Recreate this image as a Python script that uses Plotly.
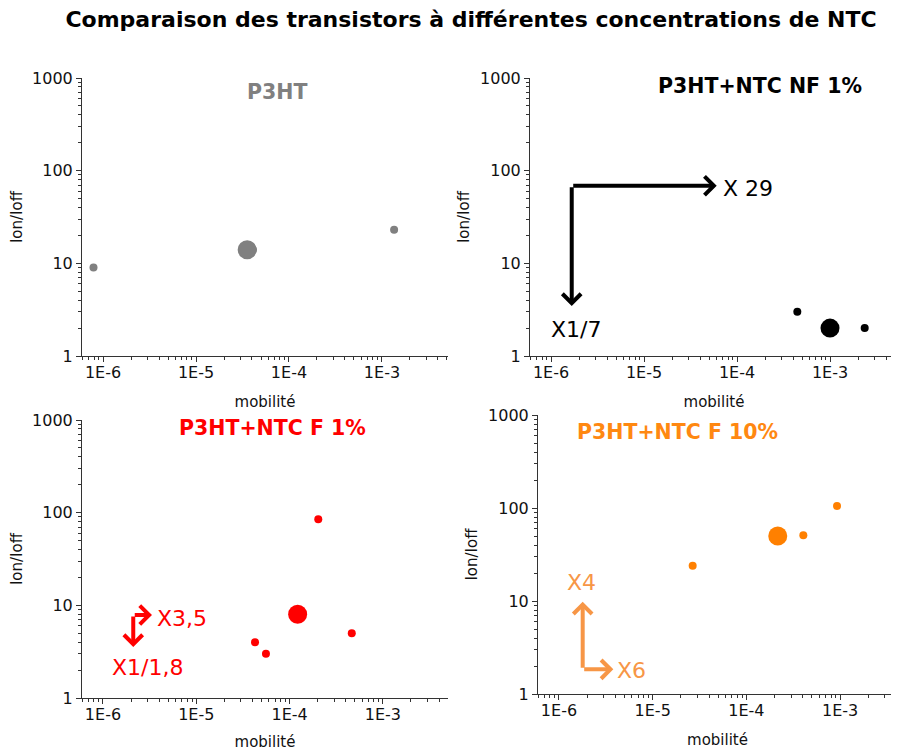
import math
import plotly.graph_objects as go

# ---------------- data ----------------
p3ht_mob = [7.9e-7, 4.1e-5, 1.35e-3]
p3ht_ratio = [9, 14, 23]
p3ht_mean_mob = [3.55e-5]
p3ht_mean_ratio = [14]

nf1_mob = [4.45e-4, 2.36e-3]
nf1_ratio = [3, 2]
nf1_mean_mob = [1.0e-3]
nf1_mean_ratio = [2]

f1_mob = [4.26e-5, 5.58e-5, 2.03e-4, 4.64e-4]
f1_ratio = [4, 3, 85, 5]
f1_mean_mob = [1.22e-4]
f1_mean_ratio = [8]

f10_mob = [2.67e-5, 4.05e-4, 9.27e-4]
f10_ratio = [24, 51, 105]
f10_mean_mob = [2.16e-4]
f10_mean_ratio = [50]

x_tick_vals = [1e-6, 1e-5, 1e-4, 1e-3]
x_tick_text = ["1E-6", "1E-5", "1E-4", "1E-3"]
y_tick_vals = [1, 10, 100, 1000]
y_tick_text = ["1", "10", "100", "1000"]

panel_titles = ["P3HT", "P3HT+NTC NF 1%", "P3HT+NTC F 1%", "P3HT+NTC F 10%"]
main_title = "Comparaison des transistors à différentes concentrations de NTC"
x_title = "mobilité"
y_title = "Ion/Ioff"

# ---------------- layout helpers ----------------
PAGE_W, PAGE_H = 899, 751
OFF = 8  # default body margin of the html page
W, H = PAGE_W - OFF, PAGE_H - OFF
FONT = "DejaVu Sans"


def px(x):
    return (x - OFF) / W


def py(y):
    return 1 - (y - OFF) / H


L = math.log10

# pixel boxes (page coordinates) of the four plot areas: (left, right, top, bottom)
boxes = [(82, 448, 78, 356), (530, 898, 78, 356), (82, 448, 420, 698), (538, 897, 415, 694)]
xranges = [[-6.226, -2.29], [-6.226, -2.269], [-6.225, -2.302], [-6.224, -2.393]]

minor_x = [k * 10.0 ** e for e in range(-7, -2) for k in range(2, 10)]
minor_y = [k * 10.0 ** e for e in range(0, 3) for k in range(2, 10)]

series = [
    (p3ht_mob, p3ht_ratio, p3ht_mean_mob, p3ht_mean_ratio, "#808080"),
    (nf1_mob, nf1_ratio, nf1_mean_mob, nf1_mean_ratio, "#000000"),
    (f1_mob, f1_ratio, f1_mean_mob, f1_mean_ratio, "#ff0000"),
    (f10_mob, f10_ratio, f10_mean_mob, f10_mean_ratio, "#ff8000"),
]

fig = go.Figure()
axis_common = dict(
    type="log", showgrid=False, zeroline=False, showline=True, automargin=False,
    linecolor="#333333", linewidth=1, ticks="outside", ticklen=5,
    tickcolor="#333333", tickfont=dict(family=FONT, size=16, color="#111111"),
)

for i, (mob, rat, mmob, mrat, col) in enumerate(series):
    n = i + 1
    xa = "x" if n == 1 else f"x{n}"
    ya = "y" if n == 1 else f"y{n}"
    fig.add_trace(go.Scatter(x=mob, y=rat, mode="markers", xaxis=xa, yaxis=ya,
                             marker=dict(size=8, color=col), showlegend=False,
                             hoverinfo="x+y"))
    fig.add_trace(go.Scatter(x=mmob, y=mrat, mode="markers", xaxis=xa, yaxis=ya,
                             marker=dict(size=19, color=col), showlegend=False,
                             hoverinfo="x+y"))
    l, r, t, b = boxes[i]
    xkey = "xaxis" if n == 1 else f"xaxis{n}"
    ykey = "yaxis" if n == 1 else f"yaxis{n}"
    fig.update_layout({
        xkey: dict(axis_common, domain=[px(l), px(r)], range=xranges[i], anchor=ya,
                   tickmode="array", tickvals=x_tick_vals, ticktext=x_tick_text,
                   ticklabelstandoff=-3,
                   minor=dict(ticks="outside", ticklen=3, tickcolor="#333333",
                              tickmode="array", tickvals=minor_x, showgrid=False),
                   title=dict(text=x_title, font=dict(family=FONT, size=15, color="#111111"),
                              standoff=15)),
        ykey: dict(axis_common, domain=[py(b), py(t)], range=[0, 3], anchor=xa,
                   tickmode="array", tickvals=y_tick_vals, ticktext=y_tick_text,
                   minor=dict(ticks="outside", ticklen=3, tickcolor="#333333",
                              tickmode="array", tickvals=minor_y, showgrid=False),
                   title=dict(text=y_title, font=dict(family=FONT, size=15, color="#111111"),
                              standoff=6)),
    })

annotations = []
# panel titles
title_pos = [(277, 92, "#808080"), (760, 86, "#000000"), (272, 428, "#ff0000"), (677, 432, "#ff8811")]
for (tx, ty, tc), txt in zip(title_pos, panel_titles):
    annotations.append(dict(text=f"<b>{txt}</b>", x=px(tx), y=py(ty), xref="paper", yref="paper",
                            xanchor="center", yanchor="middle", showarrow=False,
                            font=dict(family=FONT, size=20.5, color=tc)))


def arrow(n, x0, y0, x1, y1, color, width=4, size=0.9):
    xa = "x" if n == 1 else f"x{n}"
    ya = "y" if n == 1 else f"y{n}"
    return dict(x=L(x1), y=L(y1), ax=L(x0), ay=L(y0), xref=xa, yref=ya, axref=xa, ayref=ya,
                text="", showarrow=True, arrowhead=4, arrowsize=size, arrowwidth=width,
                arrowcolor=color, standoff=0, startstandoff=0)


def label(n, x, y, txt, color):
    xa = "x" if n == 1 else f"x{n}"
    ya = "y" if n == 1 else f"y{n}"
    return dict(x=L(x), y=L(y), xref=xa, yref=ya, text=txt, showarrow=False,
                xanchor="center", yanchor="middle", font=dict(family=FONT, size=22, color=color))


# panel 2 arrows (black)
annotations += [
    arrow(2, 1.67e-6, 68.7, 6.05e-5, 68.7, "#000000"),
    arrow(2, 1.67e-6, 68.7, 1.67e-6, 3.46, "#000000"),
    label(2, 1.31e-4, 65, "X 29", "#000000"),
    label(2, 1.86e-6, 1.95, "X1/7", "#000000"),
]
# panel 3 arrows (red)
annotations += [
    arrow(3, 2.11e-6, 7.86, 3.35e-6, 7.86, "#ff0000"),
    arrow(3, 2.11e-6, 7.86, 2.11e-6, 3.55, "#ff0000"),
    label(3, 6.98e-6, 7.3, "X3,5", "#ff0000"),
    label(3, 3.0e-6, 2.11, "X1/1,8", "#ff0000"),
]
# panel 4 arrows (orange)
annotations += [
    arrow(4, 1.79e-6, 1.84, 1.79e-6, 9.8, "#f79646"),
    arrow(4, 1.79e-6, 1.84, 3.8e-6, 1.84, "#f79646"),
    label(4, 1.72e-6, 15.7, "X4", "#f79646"),
    label(4, 5.97e-6, 1.78, "X6", "#f79646"),
]

fig.update_layout(
    width=W, height=H,
    margin=dict(l=0, r=0, t=0, b=0, autoexpand=False),
    paper_bgcolor="white", plot_bgcolor="white",
    font=dict(family=FONT, color="#111111"),
    title=dict(text=f"<b>{main_title}</b>", x=px(471), y=py(19), xanchor="center", yanchor="middle",
               xref="paper", yref="paper", font=dict(family=FONT, size=22, color="#000000")),
    annotations=annotations,
)

fig.write_html("out.html")
